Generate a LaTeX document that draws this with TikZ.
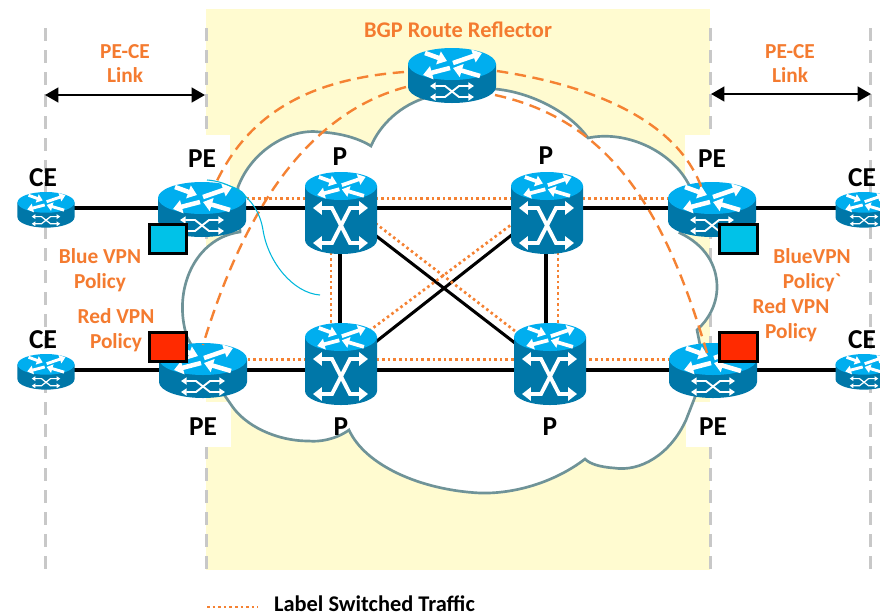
\documentclass[tikz,border=0pt]{standalone}
\usepackage{fontspec}
\setmainfont{Carlito}
\newfontfamily\rawcarlito[Ligatures=TeXOff]{Carlito}
\usetikzlibrary{arrows.meta,calc}
\definecolor{rtop}{HTML}{00AEEF}
\definecolor{rside}{HTML}{0077A8}
\definecolor{paleyellow}{HTML}{FFFBD0}
\definecolor{cloudline}{HTML}{6F9398}
\definecolor{lsporange}{HTML}{F58233}
\definecolor{textorange}{HTML}{F47B30}
\definecolor{guide}{HTML}{C8C8C8}
\definecolor{sqblue}{HTML}{00C2E8}
\definecolor{sqred}{HTML}{FF2A00}
\definecolor{thincyan}{HTML}{00B8DC}
\tikzset{
  routerhub/.style={inner sep=0pt,outer sep=0pt,minimum width=#1,minimum height=#1},
  guideline/.style={guide,line width=2.25pt,dash pattern=on 9.75pt off 6.75pt},
  link/.style={black,line width=2.3pt},
  lsp/.style={lsporange,line width=2pt,dash pattern=on 1.9pt off 2.3pt},
  rrdash/.style={lsporange,line width=1.8pt,dash pattern=on 8.5pt off 5pt},
  orangelabel/.style={text=textorange,font=\fontsize{16}{19}\selectfont\bfseries,align=center,inner sep=0pt},
  blacklabel/.style={text=black,font=\fontsize{20.5}{22}\selectfont\bfseries,inner sep=0pt},
  legendlabel/.style={text=black,font=\fontsize{16.8}{18}\selectfont\bfseries,inner sep=0pt},
  policybox/.style={draw=black,line width=2.2pt,inner sep=0pt,minimum width=28pt,minimum height=21.5pt},
  spanarrow/.style={black,line width=1.7pt,{Triangle[length=10pt,width=11pt]}-{Triangle[length=10pt,width=11pt]}},
}
% four arrows on a router's top; origin = centre of the top ellipse, drawn for rx=44
\newcommand{\rtrtop}[1]{%
  \begin{scope}[white,line width={3.4pt*#1},-{Triangle[length=0pt 2,width=0pt 2.9]}]
    \draw (-27,-11) -- (-5,-3);
    \draw (1,-1) -- (30,-11);
    \draw (-2,4) -- (-29,11);
    \draw (28,12) -- (1,4);
  \end{scope}}
% short router body: cx, y of top, scale
\newcommand{\shortrtr}[3]{%
  \begin{scope}[shift={(#1,{#2+16*#3})},scale=#3]
    \fill[rside] (-44,0) -- (-44,23) arc[start angle=180,end angle=0,x radius=44,y radius=16] -- (44,0) -- cycle;
    \fill[rtop] (0,0) ellipse[x radius=44,y radius=16];
    \rtrtop{#3}
    \begin{scope}[white,line width={1.4pt*#3},{Triangle[length=0pt 3,width=0pt 3.8]}-{Triangle[length=0pt 3,width=0pt 3.8]}]
      \draw (-22,22) -- (-7,22) -- (7,33) -- (22,33);
      \draw (-22,33) -- (-7,33) -- (7,22) -- (22,22);
    \end{scope}
  \end{scope}}
% tall label-switch router body: cx, y of top
\newcommand{\tallrtr}[2]{%
  \begin{scope}[shift={(#1,{#2+14})}]
    \fill[rside] (-36,0) -- (-36,54) arc[start angle=180,end angle=0,x radius=36,y radius=14] -- (36,0) -- cycle;
    \fill[rtop] (0,0) ellipse[x radius=36,y radius=14];
    \begin{scope}[scale=0.82]\rtrtop{0.82}\end{scope}
    \begin{scope}[white,line width=2.9pt,{Triangle[length=0pt 2.3,width=0pt 3.4]}-{Triangle[length=0pt 2.3,width=0pt 3.4]}]
      \draw (-28,22) -- (-9,22) -- (9,57) -- (27,57);
      \draw (-28,57) -- (-9,57) -- (9,22) -- (27,22);
    \end{scope}
  \end{scope}}
\begin{document}
\begin{tikzpicture}[x=0.75pt,y=-0.75pt]
\clip (0,0) rectangle (880,615);
\fill[white] (0,0) rectangle (880,615);
% provider band
\fill[paleyellow] (206,9) rectangle (710,570);
% guides
\coordinate (g1a) at (45,28); \coordinate (g1b) at (45,570);
\coordinate (g2a) at (206,28); \coordinate (g2b) at (206,570);
\coordinate (g3a) at (710,28); \coordinate (g3b) at (710,570);
\coordinate (g4a) at (870,28); \coordinate (g4b) at (870,570);
\draw[guideline] (g1a) -- (g1b);
\draw[guideline] (g2a) -- (g2b);
\draw[guideline] (g3a) -- (g3b);
\draw[guideline] (g4a) -- (g4b);
% white patches behind the PE labels
\fill[white] (204,135) rectangle (230,200);
\fill[white] (685,135) rectangle (712,200);
\fill[white] (204,402) rectangle (231,447);
\fill[white] (686,402) rectangle (712,447);
% cloud
\path[fill=white,draw=cloudline,line width=2pt,line join=miter]
  (238,187) .. controls (252,150) and (290,128) .. (320,132)
  .. controls (340,133) and (358,138) .. (371,146)
  .. controls (380,125) and (400,105) .. (428,97)
  -- (495,89)
  .. controls (530,92) and (570,112) .. (588,138)
  .. controls (625,130) and (670,150) .. (688,183)
  -- (700,205) -- (680,233)
  .. controls (705,245) and (717,265) .. (717,287)
  .. controls (717,305) and (708,320) .. (697,330)
  -- (700,345) -- (695,397) -- (686,420)
  .. controls (670,455) and (640,472) .. (614,468)
  .. controls (600,467) and (590,464) .. (585,459)
  .. controls (555,482) and (515,494) .. (480,493)
  .. controls (420,490) and (365,465) .. (349,430)
  .. controls (335,440) and (318,442) .. (309,441)
  .. controls (275,441) and (245,425) .. (232,406)
  -- (223,393) -- (205,370) -- (187,337)
  .. controls (172,290) and (195,238) .. (240,232)
  -- cycle;
% router hubs
\node[routerhub=26pt] (ce1) at (46,208) {};
\node[routerhub=26pt] (ce2) at (46,370) {};
\node[routerhub=26pt] (ce3) at (864,208) {};
\node[routerhub=26pt] (ce4) at (864,370) {};
\node[routerhub=41pt] (pe1) at (202,208) {};
\node[routerhub=41pt] (pe2) at (203,370) {};
\node[routerhub=41pt] (pe3) at (712,208) {};
\node[routerhub=41pt] (pe4) at (713,370) {};
\node[routerhub=41pt] (rr) at (452,75) {};
\node[routerhub=50pt] (p1) at (340,208) {};
\node[routerhub=50pt] (p2) at (546,208) {};
\node[routerhub=50pt] (p3) at (340,370) {};
\node[routerhub=50pt] (p4) at (550,370) {};
% links
\draw[link] (ce1.center) -- (pe1.center);
\draw[link] (pe1.center) -- (p1.center);
\draw[link] (p1.center) -- (p2.center);
\draw[link] (p2.center) -- (pe3.center);
\draw[link] (pe3.center) -- (ce3.center);
\draw[link] (ce2.center) -- (pe2.center);
\draw[link] (pe2.center) -- (p3.center);
\draw[link] (p3.center) -- (p4.center);
\draw[link] (p4.center) -- (pe4.center);
\draw[link] (pe4.center) -- (ce4.center);
\draw[link] (p1.center) -- (p3.center);
\draw[link] (p2.center) -- (p2.center |- p4.center);
\draw[link] (p1.center) -- (p4.center);
\draw[link] (p2.center) -- (p3.center);
% label switched paths (canvas shifts: positive is up)
\draw[lsp] ([yshift=7pt]pe1.center) -- ([yshift=7pt]pe3.center);
\draw[lsp] ([yshift=8pt]pe2.center) -- ([yshift=8pt]pe4.center);
\draw[lsp] ([xshift=-6.75pt]p1.center) -- ([xshift=-6.75pt]p3.center);
\draw[lsp] ([xshift=9pt]p2.center) -- ([xshift=9pt]p2.center |- p4.center);
\draw[lsp] ([yshift=9pt]p1.center) -- ([yshift=9pt]p4.center);
\draw[lsp] ([yshift=7pt]p2.center) -- ([yshift=13pt]p3.center);
% routers on top of the links
\shortrtr{46}{192}{0.648}
\shortrtr{46}{354}{0.648}
\shortrtr{864}{192}{0.648}
\shortrtr{864}{354}{0.648}
\shortrtr{202}{182}{1}
\shortrtr{203}{343}{1}
\shortrtr{712}{182}{1}
\shortrtr{713}{343}{1}
\shortrtr{452}{48}{1}
\tallrtr{341}{172}
\tallrtr{547}{172}
\tallrtr{341}{323}
\tallrtr{550}{323}
% policy squares
\node[policybox,fill=sqblue] (sb1) at (168,239) {};
\node[policybox,fill=sqred] (sr1) at (168,347) {};
\node[policybox,fill=sqblue] (sb2) at (738.5,239) {};
\node[policybox,fill=sqred] (sr2) at (738.5,347) {};
% iBGP sessions
\coordinate (rra) at (404,72); \coordinate (rrb) at (406,87);
\coordinate (rrc) at (497,71); \coordinate (rrd) at (495,95);
\coordinate (pa) at (215,185); \coordinate (pb) at (203,345);
\coordinate (pc) at (703,192); \coordinate (pd) at (707,353);
\draw[rrdash] (rra) .. controls (300,80) and (245,120) .. (pa);
\draw[rrdash] (rrb) .. controls (320,110) and (250,190) .. (pb);
\draw[rrdash] (rrc) .. controls (590,85) and (680,120) .. (pc);
\draw[rrdash] (rrd) .. controls (610,120) and (665,210) .. (pd);
% thin cyan curve
\coordinate (cya) at (207,180); \coordinate (cyb) at (320,295);
\draw[thincyan,line width=0.8pt] (cya) .. controls (225,181) and (257,193) .. (263,230) .. controls (268,262) and (293,293) .. (cyb);
% span arrows
\coordinate (sa1) at (45,95); \coordinate (sa2) at (205,95);
\coordinate (sb3) at (711,94); \coordinate (sb4) at (871,94);
\draw[spanarrow] (sa1) -- (sa2);
\draw[spanarrow] (sb3) -- (sb4);
% labels
\node[orangelabel,font=\fontsize{16.8}{19}\selectfont\bfseries] (tbgp) at (458,30) {BGP Route Reflector};
\node[orangelabel,font=\fontsize{16}{18}\selectfont\bfseries] (tl1) at (125,64) {PE-CE\\Link};
\node[orangelabel,font=\fontsize{16}{18}\selectfont\bfseries] (tl2) at (790,64) {PE-CE\\Link};
\node[orangelabel] (tbl) at (100,270) {Blue VPN\\Policy};
\node[orangelabel] (trl) at (116,330) {Red VPN\\Policy};
\node[orangelabel] (tbr) at (812,270) {BlueVPN\\Policy{\rawcarlito\bfseries `}};
\node[orangelabel] (trr) at (791,320) {Red VPN\\Policy};
\node[blacklabel] (lpe1) at (202,159) {PE};
\node[blacklabel] (lpe2) at (203,427) {PE};
\node[blacklabel] (lpe3) at (712,159) {PE};
\node[blacklabel] (lpe4) at (713,427) {PE};
\node[blacklabel] (lp1) at (340,157) {P};
\node[blacklabel] (lp2) at (546,156) {P};
\node[blacklabel] (lp3) at (341,427) {P};
\node[blacklabel] (lp4) at (550,427) {P};
\node[blacklabel] (lce1) at (43,178) {CE};
\node[blacklabel] (lce2) at (43,340) {CE};
\node[blacklabel] (lce3) at (862,178) {CE};
\node[blacklabel] (lce4) at (862,340) {CE};
% legend
\coordinate (lega) at (207,607); \coordinate (legb) at (258,607);
\draw[lsp] (lega) -- (legb);
\node[legendlabel] (leg) at (374.5,603.5) {Label Switched Traffic};
\end{tikzpicture}
\end{document}
